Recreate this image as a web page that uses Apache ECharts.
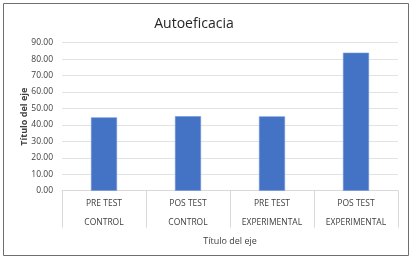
<!DOCTYPE html>
<html>
<head>
<meta charset="utf-8">
<script src="https://cdn.jsdelivr.net/npm/echarts@6/dist/echarts.min.js"></script>
<style>
  html, body { margin: 0; padding: 0; background: #fff; }
  #chart { width: 412px; height: 258px; }
</style>
</head>
<body>
<div id="chart"></div>
<script>
// categories (two lines each, like the Excel multi-level axis)
const categories = ['PRE TEST\nCONTROL', 'POS TEST\nCONTROL', 'PRE TEST\nEXPERIMENTAL', 'POS TEST\nEXPERIMENTAL']
const values = [44.6, 45.3, 45.2, 83.9]
const chartTitle = 'Autoeficacia'
const axisTitle = 'Título del eje'

const font = '"Open Sans", "Liberation Sans", sans-serif'
const charts = echarts.init(document.getElementById('chart'))
charts.setOption({
    animation: false,
    title: {
        text: chartTitle,
        left: 189,
        top: 12,
        textAlign: 'center',
        textStyle: { fontFamily: font, fontSize: 14, fontWeight: 'normal', color: '#262626' }
    },
    grid: { left: 62, right: 14, top: 42.7, bottom: 67.3 },
    xAxis: {
        type: 'category',
        data: categories,
        name: axisTitle,
        nameLocation: 'middle',
        nameGap: 42,
        nameTextStyle: { fontFamily: font, fontSize: 9, color: '#404040' },
        axisLine: { lineStyle: { color: '#d9d9d9' } },
        axisTick: { show: true, length: 37, lineStyle: { color: '#d9d9d9' } },
        axisLabel: { fontFamily: font, fontSize: 8.5, color: '#404040', lineHeight: 19, margin: 3 }
    },
    yAxis: {
        type: 'value',
        min: 0,
        max: 90,
        interval: 10,
        name: axisTitle,
        nameLocation: 'middle',
        nameGap: 33,
        nameMoveOverlap: false,
        nameTextStyle: { fontFamily: font, fontSize: 9, fontWeight: 'bold', color: '#404040' },
        axisLine: { show: false },
        axisTick: { show: false },
        axisLabel: {
            fontFamily: font, fontSize: 8.5, color: '#404040', margin: 9,
            formatter: v => v.toFixed(2)
        },
        splitLine: { lineStyle: { color: '#e3e3e3' } }
    },
    series: [{
        type: 'bar',
        data: values,
        barWidth: '31%',
        itemStyle: { color: '#4472c4', borderColor: '#6f93d6', borderWidth: 0.6 }
    }],
    graphic: [{
        type: 'rect',
        shape: { x: 3.5, y: 3.5, width: 405, height: 252 },
        style: { fill: 'none', stroke: '#6e6e6e', lineWidth: 1 }
    }]
})
</script>
</body>
</html>
